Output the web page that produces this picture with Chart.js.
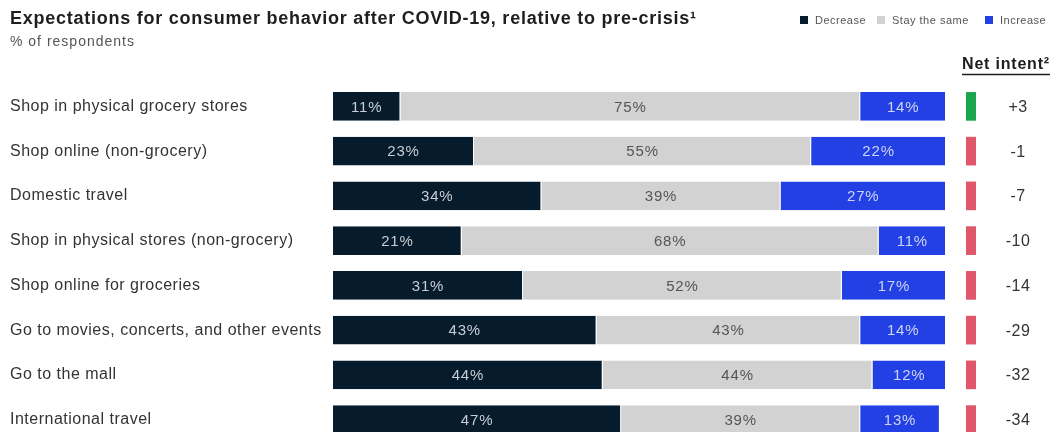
<!DOCTYPE html>
<html>
<head>
<meta charset="utf-8">
<script src="https://cdn.jsdelivr.net/npm/chart.js@4/dist/chart.umd.min.js"></script>
<style>
  html, body { margin: 0; padding: 0; background: #fff; overflow: hidden; }
  #wrap { position: relative; width: 1056px; height: 432px; overflow: hidden; }
  #chart { position: absolute; left: 0; top: 0; }
  .title { position: absolute; left: 10px; top: 8px; font: bold 18px "Liberation Sans", Arial, sans-serif; letter-spacing: 0.75px; color: #1e1e1e; white-space: nowrap; }
  .subtitle { position: absolute; left: 10px; top: 33px; font: 14px "Liberation Sans", Arial, sans-serif; letter-spacing: 1px; color: #555; white-space: nowrap; }
  .legend .item { position: absolute; top: 14px; display: flex; align-items: center; font: 11px "Liberation Sans", Arial, sans-serif; letter-spacing: 0.5px; color: #555; white-space: nowrap; }
  .legend .box { width: 8px; height: 8px; margin-right: 7px; }
</style>
</head>
<body>
<div id="wrap">
  <canvas id="chart" width="1056" height="442"></canvas>
  <div class="title">Expectations for consumer behavior after COVID-19, relative to pre-crisis¹</div>
  <div class="subtitle">% of respondents</div>
  <div class="legend" id="legend"></div>
</div>
<script>
// Survey categories, top to bottom
const categories = [
  'Shop in physical grocery stores',
  'Shop online (non-grocery)',
  'Domestic travel',
  'Shop in physical stores (non-grocery)',
  'Shop online for groceries',
  'Go to movies, concerts, and other events',
  'Go to the mall',
  'International travel'
];

// Share of respondents, %
const decrease   = [11, 23, 34, 21, 31, 43, 44, 47];
const staySame   = [75, 55, 39, 68, 52, 43, 44, 39];
const increase   = [14, 22, 27, 11, 17, 14, 12, 13];

// Net intent (increase minus decrease), percentage points
const netIntent  = [3, -1, -7, -10, -14, -29, -32, -34];

const seriesNames  = ['Decrease', 'Stay the same', 'Increase'];
const seriesColors = ['#061b2c', '#d2d2d2', '#2340e4'];
const labelColors  = ['#c9ced6', '#555555', '#cdd4f5'];
const legendLeft   = [800, 877, 985];

// Legend row
const legendEl = document.getElementById('legend');
seriesNames.forEach((name, i) => {
  const item = document.createElement('span');
  item.className = 'item';
  item.style.left = legendLeft[i] + 'px';
  const box = document.createElement('span');
  box.className = 'box';
  box.style.background = seriesColors[i];
  item.appendChild(box);
  item.appendChild(document.createTextNode(name));
  legendEl.appendChild(item);
});

// Slightly tracked text for the category labels
const tracking = {
  id: 'tracking',
  beforeDraw(chart) { chart.ctx.letterSpacing = '0.5px'; },
  beforeDatasetsDraw(chart) { chart.ctx.letterSpacing = '0px'; }
};

// Percentage text in the middle of each segment
const segmentLabels = {
  id: 'segmentLabels',
  afterDatasetsDraw(chart) {
    const ctx = chart.ctx;
    ctx.save();
    ctx.letterSpacing = '0.8px';
    ctx.font = '15px "Liberation Sans", Arial, sans-serif';
    ctx.textAlign = 'center';
    ctx.textBaseline = 'middle';
    chart.data.datasets.forEach((ds, di) => {
      const meta = chart.getDatasetMeta(di);
      meta.data.forEach((bar, i) => {
        const { x, base, y } = bar.getProps(['x', 'base', 'y'], true);
        ctx.fillStyle = labelColors[di];
        ctx.fillText(ds.data[i] + '%', (x + base) / 2, y + 1);
      });
    });
    ctx.restore();
  }
};

// Net intent column: sign marker plus value, one per row
const netIntentColumn = {
  id: 'netIntentColumn',
  afterDraw(chart) {
    const ctx = chart.ctx;
    const yScale = chart.scales.y;
    const markX = 966, markW = 10, textX = 1018;
    const h = chart.getDatasetMeta(0).data[0].height;
    ctx.save();
    // header
    ctx.letterSpacing = '0.8px';
    ctx.font = 'bold 16px "Liberation Sans", Arial, sans-serif';
    ctx.fillStyle = '#1e1e1e';
    ctx.textAlign = 'center';
    ctx.textBaseline = 'middle';
    ctx.fillText('Net intent²', 1006, 65);
    ctx.strokeStyle = '#1e1e1e';
    ctx.lineWidth = 1.5;
    ctx.beginPath();
    ctx.moveTo(962, 74.5);
    ctx.lineTo(1050, 74.5);
    ctx.stroke();
    // rows
    ctx.letterSpacing = '0.5px';
    ctx.font = '16px "Liberation Sans", Arial, sans-serif';
    netIntent.forEach((v, i) => {
      const y = yScale.getPixelForValue(i);
      ctx.fillStyle = v > 0 ? '#1aa64c' : '#e0566a';
      ctx.fillRect(markX, y - h / 2, markW, h);
      ctx.fillStyle = '#333';
      ctx.fillText((v > 0 ? '+' : '') + v, textX, y + 1);
    });
    ctx.restore();
  }
};

const datasets = [decrease, staySame, increase].map((values, i) => ({
  label: seriesNames[i],
  data: values,
  backgroundColor: seriesColors[i],
  borderColor: '#ffffff',
  borderWidth: { left: 0, right: 1, top: 0, bottom: 0 },
  borderSkipped: false,
  categoryPercentage: 0.8,
  barPercentage: 0.8
}));

new Chart(document.getElementById('chart'), {
  type: 'bar',
  data: { labels: categories, datasets },
  options: {
    indexAxis: 'y',
    responsive: false,
    animation: false,
    layout: { padding: { left: 10, right: 110, top: 84, bottom: 0 } },
    plugins: {
      legend: { display: false },
      title: { display: false },
      tooltip: { enabled: false }
    },
    scales: {
      x: { stacked: true, min: 0, max: 100, display: false },
      y: {
        stacked: true,
        grid: { display: false },
        border: { display: false },
        ticks: {
          crossAlign: 'far',
          color: '#333',
          font: { family: '"Liberation Sans", Arial, sans-serif', size: 16 }
        },
        afterFit(scale) {
          scale.width = 323;
          scale.paddingTop = 0;
          scale.paddingBottom = 0;
        }
      }
    }
  },
  plugins: [tracking, segmentLabels, netIntentColumn]
});
</script>
</body>
</html>
